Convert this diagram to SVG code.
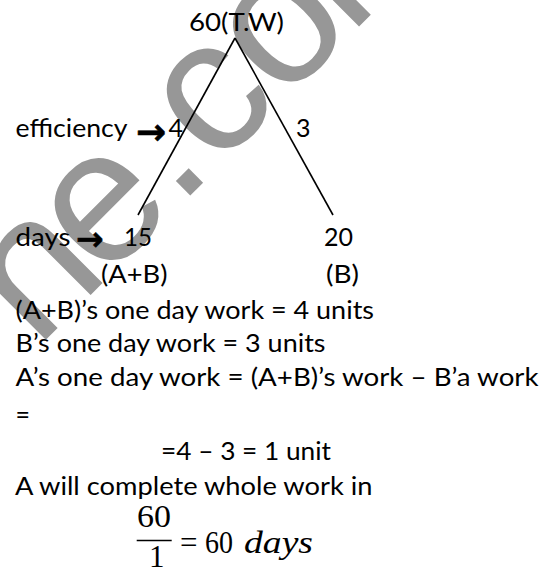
<svg xmlns="http://www.w3.org/2000/svg" width="548" height="572" viewBox="0 0 548 572">
<style>
.t{font-family:Lato,"Liberation Sans",sans-serif;font-size:25px;fill:#000}
.ar{font-family:"DejaVu Sans",sans-serif;font-weight:bold;fill:#000;stroke:#000;stroke-width:0.6}
.m{font-family:"Liberation Serif",serif;font-size:31px;fill:#000}
.wm{font-family:"Liberation Sans",Arial,sans-serif;font-size:190px;fill:#979797}
.edge{stroke:#000;stroke-width:1.6;fill:none}
</style>
<rect width="548" height="572" fill="#fff"/>
<g id="watermark">
<text class="wm" transform="rotate(-45)" x="-221 -126 -21 33 127 222" y="272.7">ne.com</text>
</g>
<g id="connectors">
<line class="edge" x1="235" y1="38" x2="138" y2="215"/>
<line class="edge" x1="235" y1="38" x2="333" y2="215"/>
</g>
<g id="node-total"><text class="t" x="189" y="31" textLength="95" lengthAdjust="spacingAndGlyphs">60(T.W)</text></g>
<g id="node-ab">
<text class="t" x="124" y="246" textLength="28" lengthAdjust="spacingAndGlyphs">15</text>
<text class="t" x="101" y="283" textLength="66.5" lengthAdjust="spacingAndGlyphs">(A+B)</text>
</g>
<g id="node-b">
<text class="t" x="324" y="246" textLength="29" lengthAdjust="spacingAndGlyphs">20</text>
<text class="t" x="326" y="283" textLength="33" lengthAdjust="spacingAndGlyphs">(B)</text>
</g>
<g id="labels">
<text class="t" x="15.5" y="137" textLength="112" lengthAdjust="spacingAndGlyphs">efficiency</text>
<text class="ar" x="136" y="143.5" font-size="36">→</text>
<text class="t" x="168.5" y="137">4</text>
<text class="t" x="296" y="137">3</text>
<text class="t" x="15.5" y="246" textLength="55" lengthAdjust="spacingAndGlyphs">days</text>
<text class="ar" x="76" y="249.5" font-size="33">→</text>
</g>
<g id="solution">
<text class="t" x="15.5" y="318.5" textLength="358.5" lengthAdjust="spacingAndGlyphs">(A+B)’s one day work = 4 units</text>
<text class="t" x="15.5" y="352" textLength="310" lengthAdjust="spacingAndGlyphs">B’s one day work = 3 units</text>
<text class="t" x="15.5" y="385.5" textLength="523" lengthAdjust="spacingAndGlyphs">A’s one day work = (A+B)’s work – B’a work</text>
<text class="t" x="15.5" y="424">=</text>
<text class="t" x="161" y="460" textLength="170" lengthAdjust="spacingAndGlyphs">=4 – 3 = 1 unit</text>
<text class="t" x="15" y="495" textLength="357.5" lengthAdjust="spacingAndGlyphs">A will complete whole work in</text>
<text class="m" x="137" y="527" textLength="34" lengthAdjust="spacingAndGlyphs">60</text>
<line x1="136.7" y1="540.5" x2="171.7" y2="540.5" stroke="#000" stroke-width="1.7"/>
<text class="m" x="149" y="567">1</text>
<text class="m" x="180" y="553">=</text>
<text class="m" x="205" y="553" textLength="28" lengthAdjust="spacingAndGlyphs">60</text>
<text class="m" x="244" y="553" font-style="italic" textLength="69" lengthAdjust="spacingAndGlyphs">days</text>
</g>
</svg>
